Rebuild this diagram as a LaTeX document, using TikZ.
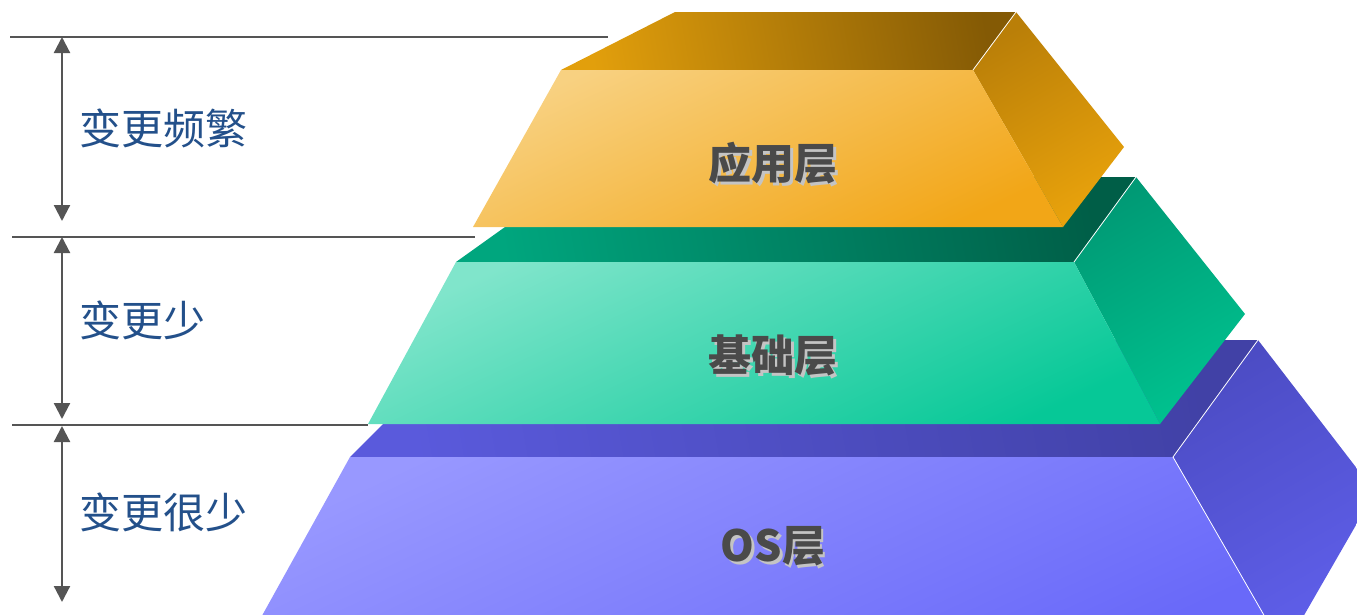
\documentclass[tikz,border=0pt]{standalone}
\usepackage{fontspec}
\setmainfont{Noto Sans CJK SC}
\usetikzlibrary{arrows.meta}

\definecolor{gapline}{HTML}{555555}
\definecolor{changeblue}{HTML}{23508A}
\definecolor{layergray}{HTML}{4A4A4A}
\definecolor{shadowgray}{HTML}{C4C4C4}
% block colours
\definecolor{appfrontA}{HTML}{F8D181}
\definecolor{appfrontB}{HTML}{F2A617}
\definecolor{apptopA}{HTML}{E29F0C}
\definecolor{apptopB}{HTML}{845A05}
\definecolor{appsideA}{HTML}{BA7F08}
\definecolor{appsideB}{HTML}{E8A20C}
\definecolor{basefrontA}{HTML}{80E5CB}
\definecolor{basefrontB}{HTML}{06C897}
\definecolor{basetopA}{HTML}{00A67E}
\definecolor{basetopB}{HTML}{005E47}
\definecolor{basesideA}{HTML}{009A75}
\definecolor{basesideB}{HTML}{00C28F}
\definecolor{osfrontA}{HTML}{9898FF}
\definecolor{osfrontB}{HTML}{6969F9}
\definecolor{ostopA}{HTML}{5A5ADC}
\definecolor{ostopB}{HTML}{4141A6}
\definecolor{ossideA}{HTML}{4C4CC4}
\definecolor{ossideB}{HTML}{5F5FEA}

\newcommand{\shadowed}[1]{\rlap{\hspace{2.5pt}\raisebox{-3pt}{\color{shadowgray}#1}}#1}

\tikzset{
  gap/.style={draw=gapline, line width=2.2pt},
  span/.style={draw=gapline, line width=2.2pt,
    {Triangle[width=16pt,length=16pt]}-{Triangle[width=16pt,length=16pt]}},
  change/.style={text=changeblue, font=\fontsize{42}{50}\selectfont, anchor=west, inner sep=0pt},
  layer/.style={text=layergray, font=\fontsize{43}{50}\selectfont\bfseries, inner sep=0pt},
  edge/.style={draw=white, line width=0.8pt},
}

\begin{document}
\begin{tikzpicture}[x=1pt,y=-1pt]
\useasboundingbox (0,0) rectangle (1357,614);
\clip (0,0) rectangle (1357,614);

% OS block (back)
\shade[left color=ostopA, right color=ostopB, shading angle=100]
  (350,457) -- (467,340) -- (1258,340) -- (1173,457) -- cycle;
\shade[top color=ossideA, bottom color=ossideB, shading angle=30]
  (1173,457) -- (1258,340) -- (1375,492) -- (1284,650) -- cycle;
\shade[top color=osfrontA, bottom color=osfrontB, shading angle=25]
  (350,457) -- (1173,457) -- (1284,650) -- (243,650) -- cycle;
\draw[edge] (1173,457) -- (1258,340);
\draw[edge] (1173,457) -- (1284,650);

% base block
\shade[left color=basetopA, right color=basetopB, shading angle=100]
  (456,262) -- (575,177) -- (1136,177) -- (1074,262) -- cycle;
\shade[top color=basesideA, bottom color=basesideB, shading angle=30]
  (1074,262) -- (1136,177) -- (1245,314) -- (1160,424) -- cycle;
\shade[top color=basefrontA, bottom color=basefrontB, shading angle=25]
  (456,262) -- (1074,262) -- (1160,424) -- (368,424) -- cycle;
\draw[edge] (1074,262) -- (1136,177);

% app block (front)
\shade[left color=apptopA, right color=apptopB, shading angle=100]
  (561,70) -- (675,12) -- (1016,12) -- (973,70) -- cycle;
\shade[top color=appsideA, bottom color=appsideB, shading angle=30]
  (973,70) -- (1016,12) -- (1124,147) -- (1063,227) -- cycle;
\shade[top color=appfrontA, bottom color=appfrontB, shading angle=25]
  (561,70) -- (973,70) -- (1063,227) -- (473,227) -- cycle;
\draw[edge] (973,70) -- (1016,12);

% layer names
\node[layer] (app) at (773,165) {\shadowed{应用层}};
\node[layer] (base) at (773,357) {\shadowed{基础层}};
\node[layer] (os) at (773,548) {\shadowed{OS层}};

% the dividing lines
\coordinate (l1) at (10,37);   \coordinate (r1) at (608,37);
\coordinate (l2) at (12,237);  \coordinate (r2) at (475,237);
\coordinate (l3) at (12,425);  \coordinate (r3) at (368,425);
\draw[gap] (l1) -- (r1);
\draw[gap] (l2) -- (r2);
\draw[gap] (l3) -- (r3);

% the spans and their labels
\coordinate (a1) at (62,37);   \coordinate (b1) at (62,221);
\coordinate (a2) at (62,237);  \coordinate (b2) at (62,419);
\coordinate (a3) at (62,426);  \coordinate (b3) at (62,602);
\foreach \i in {1,2,3}
  \draw[span] (a\i) -- (b\i);

\node[change] (often) at (79,128) {变更频繁};
\node[change] (less) at (79,320) {变更少};
\node[change] (rare) at (79,512) {变更很少};
\end{tikzpicture}
\end{document}
